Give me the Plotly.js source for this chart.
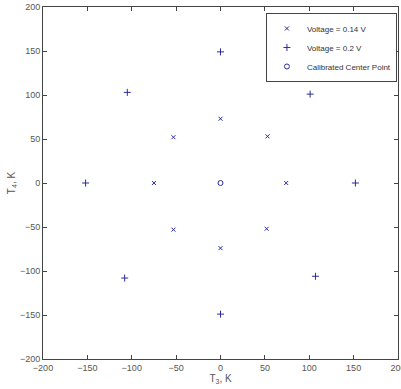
<!DOCTYPE html>
<html><head><meta charset="utf-8">
<script src="https://cdn.plot.ly/plotly-3.0.1.min.js"></script>
<style>html,body{margin:0;padding:0;background:#fff}#c{width:401px;height:389px}</style>
</head><body><div id="c"></div>
<script>
const seriesNames = ['Voltage = 0.14 V', 'Voltage = 0.2 V', 'Calibrated Center Point'];
const t3_014 = [0, -53, 53, -75, 74, -53, 52, 0];
const t4_014 = [73, 52, 53, 0, 0, -53, -52, -74];
const t3_02 = [0, -152, 152, -105, 101, -108, 107, 0];
const t4_02 = [149, 0, 0, 103, 101, -108, -106, -149];
const t3_center = [0];
const t4_center = [0];
const tickVals = [-200, -150, -100, -50, 0, 50, 100, 150, 200];

const col = '#2b2b9c';
const fam = 'Liberation Sans, Arial, sans-serif';
const data = [
  {x: t3_014, y: t4_014, name: seriesNames[0], mode: 'markers', type: 'scatter',
   marker: {symbol: 'x-thin-open', size: 4, color: col, line: {color: col, width: 1}}},
  {x: t3_02, y: t4_02, name: seriesNames[1], mode: 'markers', type: 'scatter',
   marker: {symbol: 'cross-thin-open', size: 5, color: col, line: {color: col, width: 1}}},
  {x: t3_center, y: t4_center, name: seriesNames[2], mode: 'markers', type: 'scatter',
   marker: {symbol: 'circle-open', size: 5, color: col, line: {color: col, width: 1}}}
];
const axisCommon = {
  range: [-200, 200], tickvals: tickVals, ticks: 'inside', ticklen: 4, tickcolor: '#444',
  showline: true, linecolor: '#444', linewidth: 1, mirror: 'ticks', showgrid: false, zeroline: false,
  ticklabeloverflow: 'allow',
  tickfont: {family: fam, size: 9, color: '#555'}
};
const layout = {
  width: 401, height: 389,
  margin: {l: 43, r: 3, t: 7, b: 30},
  paper_bgcolor: '#fff', plot_bgcolor: '#fff',
  showlegend: true,
  legend: {x: 0.997, y: 0.983, xanchor: 'right', yanchor: 'top', bgcolor: '#fff',
    bordercolor: '#444', borderwidth: 1, tracegroupgap: 0, itemwidth: 30,
    font: {family: fam, size: 8, color: '#333'}},
  xaxis: Object.assign({}, axisCommon, {
    title: {text: 'T<sub>3</sub>, K', standoff: 2, font: {family: fam, size: 10, color: '#555'}}
  }),
  yaxis: Object.assign({}, axisCommon, {
    title: {text: 'T<sub>4</sub>, K', standoff: 2, font: {family: fam, size: 10, color: '#555'}}
  })
};
Plotly.newPlot('c', data, layout, {displayModeBar: false, staticPlot: true});
</script></body></html>
